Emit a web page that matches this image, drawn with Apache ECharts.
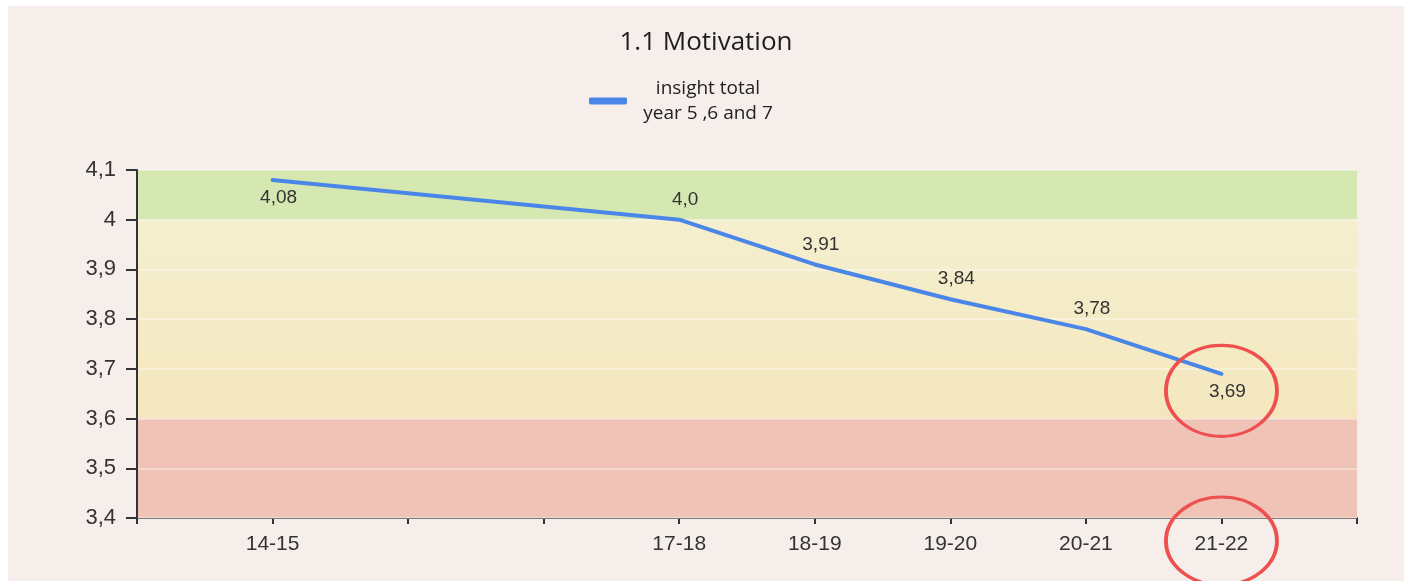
<!DOCTYPE html>
<html>
<head>
<meta charset="utf-8">
<script src="https://cdn.jsdelivr.net/npm/echarts@6/dist/echarts.min.js"></script>
<style>
  html, body { margin: 0; padding: 0; background: #ffffff; }
  #chart { position: absolute; left: 8px; top: 6px; width: 1396px; height: 575px; }
</style>
</head>
<body>
<div id="chart"></div>
<script>
// school years on the axis, only some have a measurement
const years = ['13-14', '14-15', '15-16', '16-17', '17-18', '18-19', '19-20', '20-21', '21-22', '22-23']
const motivation = [null, 4.08, null, null, 4.0, 3.91, 3.84, 3.78, 3.69, null]
const valueLabels = [null, '4,08', null, null, '4,0', '3,91', '3,84', '3,78', '3,69', null]
const labelBelow = [false, true, false, false, false, false, false, false, true, false]

// score bands behind the line
const bands = [
  { from: 4.0, to: 4.1, color: '#d6e8b2' },
  { from: 3.6, to: 4.0, color: ['#f5efcf', '#f4e7be'] },
  { from: 3.4, to: 3.6, color: '#efc4b7' }
]

const yMin = 3.4
const yMax = 4.1
const yStep = 0.1

const seriesName = 'insight total\nyear 5 ,6 and 7'
const axisFont = '"Liberation Sans", Arial, sans-serif'
const textFont = '"Open Sans", "Noto Sans", sans-serif'

const chart = echarts.init(document.getElementById('chart'))

const lineData = motivation.map((v, i) => {
  if (v === null) return null
  return {
    value: v,
    label: {
      position: labelBelow[i] ? 'bottom' : 'top',
      offset: [6, labelBelow[i] ? 0 : -2],
      formatter: valueLabels[i]
    }
  }
})

function bandColor(c) {
  if (!Array.isArray(c)) return c
  return new echarts.graphic.LinearGradient(0, 0, 0, 1, [
    { offset: 0, color: c[0] },
    { offset: 1, color: c[1] }
  ])
}

chart.setOption({
  backgroundColor: '#f6eeeb',
  animation: false,
  title: {
    text: '1.1 Motivation',
    left: 'center',
    top: 19,
    textStyle: { fontFamily: textFont, fontSize: 26, fontWeight: 'normal', color: '#1e1e1e' }
  },
  legend: {
    left: 576,
    top: 68,
    itemWidth: 38,
    itemHeight: 7,
    itemGap: 10,
    icon: 'roundRect',
    data: [{ name: seriesName, itemStyle: { color: '#4a86e8' } }],
    formatter: (name) => name.split('\n').map((s) => '{a|' + s + '}').join('\n'),
    textStyle: {
      fontFamily: textFont,
      fontSize: 19,
      color: '#222',
      rich: { a: { fontFamily: textFont, fontSize: 19, color: '#222', width: 152, align: 'center', lineHeight: 25 } }
    }
  },
  grid: { left: 129, right: 47, top: 164, bottom: 63 },
  xAxis: {
    type: 'category',
    data: years,
    boundaryGap: false,
    axisLine: { lineStyle: { color: '#333', width: 2 } },
    axisTick: { interval: 0, length: 6, lineStyle: { color: '#333', width: 2 } },
    axisLabel: {
      interval: 0,
      margin: 16,
      fontFamily: axisFont,
      fontSize: 21,
      color: '#333',
      formatter: (v, i) => (motivation[i] === null ? '' : v)
    },
    splitLine: { show: false }
  },
  yAxis: {
    type: 'value',
    min: yMin,
    max: yMax,
    interval: yStep,
    z: 2,
    axisLine: { show: true, lineStyle: { color: '#333', width: 2 } },
    axisTick: { show: true, length: 11, lineStyle: { color: '#333', width: 2 } },
    axisLabel: {
      margin: 21,
      fontFamily: axisFont,
      fontSize: 22,
      color: '#333',
      formatter: (v) => String(+v.toFixed(1)).replace('.', ',')
    },
    splitLine: { show: true, lineStyle: { color: 'rgba(255,255,255,0.35)', width: 2 } }
  },
  series: [
    {
      name: 'bands',
      type: 'line',
      z: 1,
      data: [],
      silent: true,
      markArea: {
        silent: true,
        data: bands.map((b) => [
          { yAxis: b.from, itemStyle: { color: bandColor(b.color) } },
          { yAxis: b.to }
        ])
      }
    },
    {
      name: seriesName,
      type: 'line',
      z: 3,
      data: lineData,
      connectNulls: true,
      symbol: 'circle',
      symbolSize: 1,
      showSymbol: true,
      itemStyle: { color: '#4a86e8' },
      lineStyle: { color: '#4a86e8', width: 4, cap: 'round', join: 'round' },
      label: {
        show: true,
        fontFamily: axisFont,
        fontSize: 19,
        color: '#333',
        distance: 8
      },
      markPoint: {
        silent: true,
        symbol: 'circle',
        label: { show: false },
        itemStyle: { color: 'rgba(0,0,0,0)', borderColor: '#ee4f4f', borderWidth: 3.5 },
        data: [
          { coord: [8, 3.69], symbolSize: [111, 91], symbolOffset: [0, 17] },
          { coord: [8, 3.4], symbolSize: [111, 88], symbolOffset: [0, 23] }
        ]
      }
    }
  ]
})
</script>
</body>
</html>
